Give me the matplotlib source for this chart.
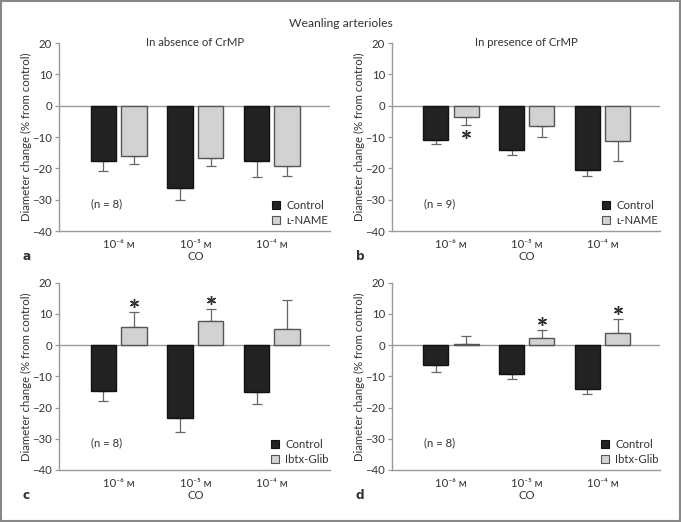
import matplotlib
matplotlib.use("Agg")
import matplotlib.pyplot as plt
from matplotlib.patches import Patch, Rectangle
import numpy as np

plt.rcParams['font.family'] = ['Lato', 'DejaVu Sans']

categories = ["10⁻⁶ ᴍ", "10⁻⁵ ᴍ", "10⁻⁴ ᴍ"]

a_control = [-17.5, -26.2, -17.7]
a_control_err = [3.5, 4.0, 5.0]
a_lname = [-16.0, -16.7, -19.1]
a_lname_err = [2.5, 2.6, 3.5]

b_control = [-11.0, -14.3, -20.5]
b_control_err = [1.1, 1.4, 2.1]
b_lname = [-3.5, -6.6, -11.4]
b_lname_err = [2.6, 3.4, 6.3]

c_control = [-14.8, -23.2, -15.1]
c_control_err = [3.0, 4.5, 3.9]
c_ibtx = [5.9, 7.8, 5.3]
c_ibtx_err = [4.8, 3.8, 9.2]

d_control = [-6.5, -9.2, -14.2]
d_control_err = [2.0, 1.5, 1.6]
d_ibtx = [0.5, 2.2, 3.8]
d_ibtx_err = [2.4, 2.7, 4.6]

# significance stars: (group index, y position)
b_stars = [(0, -9.2)]
c_stars = [(0, 13.5), (1, 14.4)]
d_stars = [(1, 7.8), (2, 11.2)]

W, H = 681, 522
fig = plt.figure(figsize=(W / 100, H / 100), dpi=100)

DARK = '#222222'
LIGHT = '#d2d2d2'
GRAY = '#9a9a9a'
TXT = '#333333'
FS = 8.2


def make_panel(rect, ctrl, ctrl_err, trt, trt_err, trt_label, n_text, letter,
               subtitle=None, stars=()):
    ax = fig.add_axes(rect)
    x = np.arange(len(categories))
    w = 0.33
    off = 0.2
    for vals, errs, dx, fc, ec in [(ctrl, ctrl_err, -off, DARK, '#111111'),
                                   (trt, trt_err, off, LIGHT, '#555555')]:
        vals = np.array(vals)
        errs = np.array(errs)
        lower = np.where(vals < 0, errs, 0)
        upper = np.where(vals >= 0, errs, 0)
        ax.errorbar(x + dx, vals, yerr=[lower, upper], fmt='none',
                    ecolor='#666666', elinewidth=0.9, capsize=3.5,
                    capthick=0.9, zorder=2)
        ax.bar(x + dx, vals, width=w, color=fc, edgecolor=ec,
               linewidth=1.0, zorder=3)
    ax.axhline(0, color=GRAY, lw=1.0, zorder=1)
    ax.set_ylim(-40, 20)
    ax.set_xlim(-0.78, 2.76)
    ax.set_yticks([-40, -30, -20, -10, 0, 10, 20])
    ax.set_yticklabels(['−40', '−30', '−20', '−10', '0', '10', '20'])
    ax.set_xticks(x)
    ax.set_xticklabels(categories)
    ax.tick_params(axis='x', length=0, pad=6, labelsize=FS, colors=TXT)
    ax.tick_params(axis='y', length=3, width=0.9, color=GRAY, pad=2,
                   labelsize=FS, labelcolor=TXT)
    for s in ['top', 'right']:
        ax.spines[s].set_visible(False)
    for s in ['left', 'bottom']:
        ax.spines[s].set_color(GRAY)
        ax.spines[s].set_linewidth(1.0)
    ax.set_ylabel('Diameter change (% from control)', fontsize=FS,
                  color=TXT, labelpad=0)
    ax.text(1, -0.135, 'CO', transform=ax.get_xaxis_transform(),
            ha='center', va='center', fontsize=FS, color=TXT)
    ax.text(-0.12, -0.135, letter, transform=ax.transAxes, ha='center',
            va='center', fontsize=FS + 0.5, fontweight='bold', color=TXT,
            family='DejaVu Sans')
    ax.text(0.118, -31.3, n_text, transform=ax.get_yaxis_transform(),
            ha='left', va='center', fontsize=FS, color=TXT)
    if subtitle:
        ax.text(1, 1.0, subtitle, transform=ax.get_xaxis_transform(),
                ha='center', va='center', fontsize=FS, color=TXT)
    for gi, yv in stars:
        ax.plot(gi + off, yv, marker=(6, 2, 0), ms=6.5, mew=1.0,
                color='#333333', zorder=4, linestyle='none')
    handles = [Patch(facecolor=DARK, edgecolor='#111111', lw=0.8),
               Patch(facecolor=LIGHT, edgecolor='#555555', lw=0.8)]
    leg = ax.legend(handles, ['Control', trt_label], loc='lower right',
                    bbox_to_anchor=(1.02, -0.01), frameon=False,
                    fontsize=FS, handlelength=0.7, handleheight=0.7,
                    handletextpad=0.55, labelspacing=0.35, borderaxespad=0.2)
    for t in leg.get_texts():
        t.set_color(TXT)
    return ax


def fy(py):
    return 1 - py / H


make_panel([59 / W, fy(231), 271 / W, 188 / H], a_control, a_control_err,
           a_lname, a_lname_err, 'ʟ-NAME', '(n = 8)', 'a',
           subtitle='In absence of CrMP')
make_panel([392 / W, fy(231), 268 / W, 188 / H], b_control, b_control_err,
           b_lname, b_lname_err, 'ʟ-NAME', '(n = 9)', 'b',
           subtitle='In presence of CrMP', stars=b_stars)
make_panel([59 / W, fy(470), 271 / W, 187.3 / H], c_control, c_control_err,
           c_ibtx, c_ibtx_err, 'Ibtx-Glib', '(n = 8)', 'c', stars=c_stars)
make_panel([392 / W, fy(470), 268 / W, 187.3 / H], d_control, d_control_err,
           d_ibtx, d_ibtx_err, 'Ibtx-Glib', '(n = 8)', 'd', stars=d_stars)

fig.text(0.5, fy(24), 'Weanling arterioles', ha='center', va='center',
         fontsize=FS + 0.5, color=TXT)

fig.patches.append(Rectangle((0.001, 0.001), 0.998, 0.997,
                             transform=fig.transFigure, fill=False,
                             edgecolor='#888888', lw=1.5))

fig.savefig('out.png', dpi=100)
